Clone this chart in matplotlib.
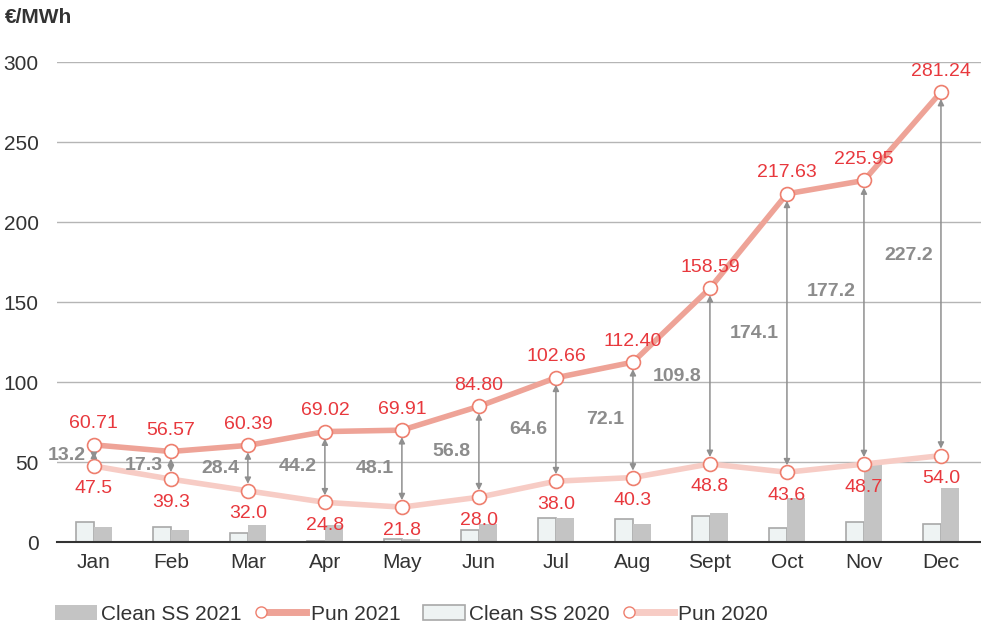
import matplotlib
matplotlib.use("Agg")
import matplotlib.pyplot as plt
from matplotlib.lines import Line2D
from matplotlib.patches import Patch, Rectangle
from matplotlib.legend_handler import HandlerBase
import numpy as np

months = ["Jan", "Feb", "Mar", "Apr", "May", "Jun", "Jul", "Aug", "Sept", "Oct", "Nov", "Dec"]
pun_2021 = [60.71, 56.57, 60.39, 69.02, 69.91, 84.80, 102.66, 112.40, 158.59, 217.63, 225.95, 281.24]
pun_2020 = [47.5, 39.3, 32.0, 24.8, 21.8, 28.0, 38.0, 40.3, 48.8, 43.6, 48.7, 54.0]
diff_labels = [13.2, 17.3, 28.4, 44.2, 48.1, 56.8, 64.6, 72.1, 109.8, 174.1, 177.2, 227.2]
clean_ss_2020 = [12.7, 9.4, 5.4, 0.6, 1.8, 7.5, 15.2, 14.4, 16.0, 8.5, 12.7, 11.0]
clean_ss_2021 = [9.6, 7.7, 10.4, 10.4, 1.6, 11.5, 15.2, 11.2, 18.1, 27.3, 50.2, 34.0]
yticks = [0, 50, 100, 150, 200, 250, 300]

# where along each arrow the difference label sits (fraction from Pun 2020 to Pun 2021)
label_frac = [0.5] * 10 + [0.61, 0.55]

RED_TXT = "#E8383D"
LINE21 = "#EEA397"
LINE20 = "#F7CCC5"
MEC = "#EE7F6E"
GRAY_TXT = "#8C8C8C"
BAR21 = "#C4C4C4"
BAR20_FACE = "#EEF3F3"
BAR20_EDGE = "#A8A8A8"
TXT = "#333333"

plt.rcParams['font.family'] = ['Liberation Sans', 'DejaVu Sans']

fig = plt.figure(figsize=(9.81, 6.29), dpi=100)
ax = fig.add_axes([0.058, 0.1383, 0.942, 0.7631])

x = np.arange(len(months))
bw = 0.23
ax.bar(x - bw / 2, clean_ss_2020, width=bw, color=BAR20_FACE, edgecolor=BAR20_EDGE, linewidth=1.2, zorder=2)
ax.bar(x + bw / 2, clean_ss_2021, width=bw, color=BAR21, edgecolor='none', zorder=2)

ax.plot(x, pun_2020, color=LINE20, lw=4, zorder=3, marker='o', ms=10, mfc='white', mec=MEC, mew=1.2, clip_on=False)
ax.plot(x, pun_2021, color=LINE21, lw=4, zorder=4, marker='o', ms=10, mfc='white', mec=MEC, mew=1.2, clip_on=False)

for i in range(len(months)):
    ax.annotate(f"{pun_2021[i]:.2f}", (x[i], pun_2021[i]), xytext=(0, 9), textcoords='offset points',
                ha='center', va='bottom', color=RED_TXT, fontsize=14, zorder=6)
    ax.annotate(f"{pun_2020[i]:.1f}", (x[i], pun_2020[i]), xytext=(0, -16.5), textcoords='offset points',
                ha='center', va='center', color=RED_TXT, fontsize=14, zorder=6)
    ax.annotate("", xy=(x[i], pun_2021[i]), xytext=(x[i], pun_2020[i]),
                arrowprops=dict(arrowstyle='<|-|>', color='#8F8F8F', lw=1.1, shrinkA=5, shrinkB=5,
                                mutation_scale=9), zorder=5)
    ypos = pun_2020[i] + label_frac[i] * (pun_2021[i] - pun_2020[i])
    ax.annotate(f"{diff_labels[i]:.1f}", (x[i], ypos), xytext=(-6, 0), textcoords='offset points',
                ha='right', va='center', color=GRAY_TXT, fontsize=14, fontweight='bold', zorder=6)

ax.set_xlim(-0.48, 11.52)
ax.set_ylim(0, 300)
ax.set_yticks(yticks)
ax.set_xticks(x)
ax.set_xticklabels(months)
ax.tick_params(axis='both', length=0, labelsize=15, colors=TXT)
ax.tick_params(axis='x', pad=8)
ax.tick_params(axis='y', pad=13)
ax.yaxis.grid(True, color='#B5B5B5', lw=1)
ax.set_axisbelow(True)
for s in ['top', 'right', 'left']:
    ax.spines[s].set_visible(False)
ax.spines['bottom'].set_color('#333333')
ax.spines['bottom'].set_linewidth(1.5)
ax.spines['bottom'].set_zorder(2.5)

fig.text(0.005, 0.972, "€/MWh", fontsize=15, fontweight='bold', color=TXT, va='center', ha='left')


class LeftMarkerHandler(HandlerBase):
    def create_artists(self, legend, orig_handle, xdescent, ydescent, width, height, fontsize, trans):
        y = height / 2 - ydescent
        line = Line2D([-xdescent + 4, width - xdescent], [y, y], color=orig_handle.get_color(), lw=5)
        mk = Line2D([-xdescent + 4], [y], marker='o', ms=8, mfc='white', mec=MEC, mew=1, ls='')
        line.set_transform(trans)
        mk.set_transform(trans)
        return [line, mk]


class RightPatchHandler(HandlerBase):
    def create_artists(self, legend, orig_handle, xdescent, ydescent, width, height, fontsize, trans):
        w = width * 0.82
        h = height * 0.95
        r = Rectangle((-xdescent + width - w, -ydescent + (height - h) / 2), w, h,
                      facecolor=orig_handle.get_facecolor(), edgecolor=orig_handle.get_edgecolor(),
                      linewidth=1.2)
        r.set_transform(trans)
        return [r]


h1 = Patch(facecolor=BAR21, edgecolor='none')
h2 = Line2D([], [], color=LINE21)
h3 = Patch(facecolor=BAR20_FACE, edgecolor=BAR20_EDGE)
h4 = Line2D([], [], color=LINE20)
fig.legend([h1, h2, h3, h4], ["Clean SS 2021", "Pun 2021", "Clean SS 2020", "Pun 2020"],
           handler_map={h1: RightPatchHandler(), h3: RightPatchHandler(),
                        h2: LeftMarkerHandler(), h4: LeftMarkerHandler()},
           loc='center left', bbox_to_anchor=(0.047, 0.024), ncol=4, frameon=False, borderaxespad=0,
           borderpad=0, fontsize=15, handlelength=2.45, handleheight=0.8, handletextpad=0.2,
           columnspacing=0.65, labelcolor=TXT)

fig.savefig("out.png", dpi=100)
